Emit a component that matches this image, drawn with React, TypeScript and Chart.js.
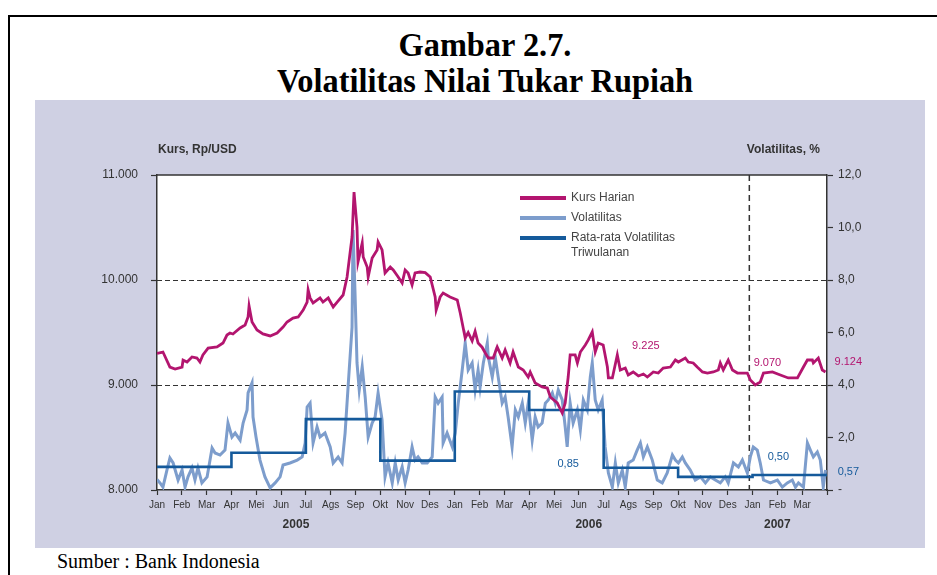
import React, { useEffect, useRef } from 'react';
import { Chart, registerables } from 'chart.js';

Chart.register(...registerables);

const monthLabels = ['Jan','Feb','Mar','Apr','Mei','Jun','Jul','Ags','Sep','Okt','Nov','Des','Jan','Feb','Mar','Apr','Mei','Jun','Jul','Ags','Sep','Okt','Nov','Des','Jan','Feb','Mar'];
const yearLabels = ['2005', '2006', '2007'];
const yearLabelMonth = [5.6, 17.4, 25.0];
const kursTicks = [8000, 9000, 10000, 11000];
const volTicks = [0, 2, 4, 6, 8, 10, 12];
const kursRefLevels = [9000, 10000];
const yearBreakMonth = 23.87;

// [month index since Jan 2005, Rp/USD]
const kursSeries: [number, number][] = [
  [0.00,9300],[0.24,9314],[0.52,9171],[0.73,9152],[1.01,9171],[1.05,9238],[1.21,9219],[1.41,9267],[1.61,9257],[1.73,9219],
  [1.85,9286],[2.06,9352],[2.42,9362],[2.66,9400],[2.82,9476],[2.94,9495],[3.06,9486],[3.35,9543],[3.55,9571],[3.67,9648],
  [3.71,9752],[3.83,9600],[4.03,9524],[4.27,9486],[4.56,9467],[4.84,9495],[5.08,9552],[5.24,9600],[5.48,9638],[5.69,9648],
  [5.89,9714],[6.05,9790],[6.09,9905],[6.17,9829],[6.29,9781],[6.57,9829],[6.69,9790],[6.90,9829],[7.10,9743],[7.26,9790],
  [7.50,9857],[7.66,10029],[7.86,10410],[7.94,10838],[8.06,10505],[8.10,10171],[8.27,10352],[8.31,10219],[8.47,10124],[8.51,10029],
  [8.67,10210],[8.87,10286],[8.91,10362],[9.07,10286],[9.19,10067],[9.40,10124],[9.52,10095],[9.72,10029],[9.88,9971],[10.00,10095],
  [10.12,10067],[10.28,9952],[10.40,10067],[10.60,10076],[10.81,10070],[11.01,10029],[11.21,9838],[11.25,9714],[11.41,9838],[11.53,9876],
  [11.81,9838],[12.10,9810],[12.22,9686],[12.42,9448],[12.54,9500],[12.70,9420],[12.82,9510],[12.94,9400],[13.10,9360],[13.23,9305],
  [13.35,9257],[13.55,9257],[13.71,9362],[13.91,9257],[14.03,9333],[14.23,9210],[14.35,9314],[14.56,9171],[14.76,9143],[14.96,9076],
  [15.04,9124],[15.24,9019],[15.52,8981],[15.73,8971],[15.85,8886],[16.13,8829],[16.33,8733],[16.45,8829],[16.57,9076],[16.65,9286],
  [16.85,9286],[16.94,9210],[17.06,9314],[17.26,9381],[17.38,9429],[17.54,9505],[17.66,9314],[17.78,9400],[17.98,9381],[18.15,9171],
  [18.19,9067],[18.35,9067],[18.55,9286],[18.67,9143],[18.87,9162],[18.99,9095],[19.19,9124],[19.40,9086],[19.60,9105],[19.76,9076],
  [20.00,9124],[20.20,9114],[20.40,9162],[20.69,9171],[20.89,9238],[21.01,9219],[21.29,9257],[21.41,9219],[21.61,9210],[21.77,9171],
  [21.98,9124],[22.18,9114],[22.42,9124],[22.62,9143],[22.70,9210],[22.82,9143],[23.02,9238],[23.19,9143],[23.39,9114],[23.59,9114],
  [23.79,9114],[23.91,9048],[24.11,9000],[24.31,9029],[24.44,9114],[24.80,9124],[25.12,9095],[25.44,9067],[25.81,9067],[26.05,9171],
  [26.21,9238],[26.41,9238],[26.45,9210],[26.65,9257],[26.81,9143],[26.94,9124]
];

// [month index since Jan 2005, volatility %]
const volSeries: [number, number][] = [
  [0.00,0.40],[0.12,0.27],[0.24,0.11],[0.40,0.76],[0.52,1.22],[0.65,1.03],[0.85,0.38],[1.01,0.76],[1.13,0.11],[1.25,0.50],
  [1.41,0.84],[1.53,0.38],[1.65,0.84],[1.81,0.27],[2.02,0.50],[2.22,1.60],[2.34,1.41],[2.54,1.33],[2.74,1.52],[2.86,2.55],
  [3.02,2.02],[3.15,2.17],[3.35,1.90],[3.47,2.55],[3.63,3.05],[3.67,3.70],[3.83,4.08],[3.87,2.78],[3.99,2.02],[4.15,1.14],
  [4.35,0.50],[4.56,0.08],[4.76,0.27],[4.96,0.50],[5.08,0.95],[5.36,1.03],[5.65,1.14],[5.85,1.26],[5.97,1.79],[6.05,3.16],
  [6.17,3.31],[6.29,1.79],[6.45,2.40],[6.57,2.02],[6.77,2.17],[6.98,1.64],[7.10,1.03],[7.30,1.26],[7.46,1.03],[7.58,2.17],
  [7.70,3.92],[7.86,6.20],[7.90,9.90],[7.98,7.50],[8.06,4.84],[8.15,3.81],[8.27,4.69],[8.39,3.54],[8.51,2.02],[8.67,2.55],
  [8.79,2.78],[8.91,3.70],[9.07,2.67],[9.19,0.50],[9.31,1.03],[9.48,0.27],[9.60,1.03],[9.72,0.38],[9.88,0.88],[10.00,0.27],
  [10.12,0.76],[10.28,1.64],[10.40,1.14],[10.52,1.26],[10.69,1.03],[10.89,1.03],[11.09,1.26],[11.21,3.54],[11.33,3.31],[11.49,3.54],
  [11.53,1.79],[11.69,2.17],[11.90,1.64],[12.02,2.17],[12.14,3.31],[12.30,4.57],[12.42,5.60],[12.54,4.57],[12.70,4.84],[12.82,3.81],
  [12.94,4.57],[13.02,3.92],[13.15,4.84],[13.31,5.60],[13.35,5.07],[13.51,4.30],[13.63,5.07],[13.75,4.30],[13.91,3.31],[14.03,3.54],
  [14.15,2.78],[14.31,1.64],[14.44,3.05],[14.56,2.78],[14.72,3.31],[14.84,2.55],[14.96,3.31],[15.12,1.90],[15.24,2.78],[15.36,2.40],
  [15.52,2.55],[15.65,3.31],[15.77,3.43],[15.93,3.70],[16.05,3.31],[16.17,3.81],[16.33,3.43],[16.45,2.40],[16.53,1.64],[16.65,3.31],
  [16.77,2.55],[16.94,3.05],[17.06,2.29],[17.18,3.43],[17.34,3.05],[17.46,4.30],[17.54,4.84],[17.66,3.43],[17.78,3.05],[17.94,3.43],
  [18.06,1.64],[18.19,0.65],[18.35,0.11],[18.47,1.03],[18.59,0.27],[18.75,0.76],[18.87,0.11],[18.99,1.03],[19.19,1.14],[19.35,1.52],
  [19.48,1.79],[19.60,1.26],[19.76,1.64],[19.96,1.14],[20.16,0.38],[20.36,0.27],[20.56,0.65],[20.77,1.33],[20.89,1.14],[21.01,1.03],
  [21.17,1.26],[21.29,1.03],[21.49,0.76],[21.69,0.38],[21.90,0.50],[22.10,0.27],[22.30,0.50],[22.50,0.38],[22.70,0.27],[22.90,0.50],
  [23.02,0.27],[23.23,1.03],[23.43,0.88],[23.59,1.14],[23.79,0.65],[23.91,1.26],[24.03,1.64],[24.19,1.52],[24.31,1.03],[24.44,0.38],
  [24.72,0.27],[25.00,0.38],[25.20,0.11],[25.40,0.27],[25.60,0.38],[25.73,0.11],[25.85,0.27],[26.05,0.11],[26.21,1.79],[26.33,1.52],
  [26.45,1.26],[26.61,1.45],[26.73,1.14],[26.85,0.11],[26.94,0.76]
];

const quarterStart = [0, 3, 6, 9, 12, 15, 18, 21, 24, 27];
const quarterAvg = [0.88, 1.42, 2.70, 1.12, 3.75, 3.05, 0.85, 0.50, 0.57, 0.57];

const kursNoteText = ['9.225', '9.070', '9.124'];
const kursNoteMonth = [19.7, 24.6, 27.86];
const kursNoteValue = [9371, 9210, 9219];
const volNoteText = ['0,85', '0,50', '0,57'];
const volNoteMonth = [16.57, 25.04, 27.86];
const volNoteValue = [0.99, 1.26, 0.69];

const legendText = ['Kurs Harian', 'Volatilitas', 'Rata-rata Volatilitas', 'Triwulanan'];

const KURS_COLOR = '#b3156f';
const VOL_COLOR = '#7d9dcc';
const AVG_COLOR = '#155a9b';
const AXIS_COLOR = '#333333';
const FONT = '"Liberation Sans", Arial, sans-serif';

function fmtKurs(v: number): string {
  const s = Math.round(v).toString();
  return s.replace(/\B(?=(\d{3})+(?!\d))/g, '.');
}
function fmtVol(v: number): string {
  if (v === 0) return '-';
  return v.toFixed(1).replace('.', ',');
}

const overlayPlugin = {
  id: 'overlay',
  beforeDraw(chart: any) {
    const { ctx, chartArea: a } = chart;
    ctx.save();
    ctx.fillStyle = '#ffffff';
    ctx.fillRect(a.left, a.top, a.right - a.left, a.bottom - a.top);
    ctx.restore();
  },
  beforeDatasetsDraw(chart: any) {
    const { ctx, chartArea: a, scales } = chart;
    ctx.save();
    ctx.strokeStyle = AXIS_COLOR;
    ctx.lineWidth = 1.2;
    ctx.setLineDash([5, 3]);
    kursRefLevels.forEach((lv) => {
      const y = Math.round(scales.yKurs.getPixelForValue(lv)) + 0.5;
      ctx.beginPath();
      ctx.moveTo(a.left, y);
      ctx.lineTo(a.right, y);
      ctx.stroke();
    });
    ctx.lineWidth = 1.5;
    ctx.setLineDash([6, 4]);
    const x = scales.x.getPixelForValue(yearBreakMonth);
    ctx.beginPath();
    ctx.moveTo(x, a.top);
    ctx.lineTo(x, a.bottom);
    ctx.stroke();
    ctx.restore();
  },
  afterDraw(chart: any) {
    const { ctx, chartArea: a, scales } = chart;
    ctx.save();
    ctx.strokeStyle = AXIS_COLOR;
    ctx.lineWidth = 1.5;
    ctx.beginPath();
    ctx.moveTo(a.left, a.top);
    ctx.lineTo(a.right, a.top);
    ctx.stroke();

    ctx.fillStyle = AXIS_COLOR;
    ctx.font = `bold 12px ${FONT}`;
    ctx.textBaseline = 'middle';
    ctx.textAlign = 'left';
    ctx.fillText('Kurs, Rp/USD', a.left + 1, a.top - 25);
    ctx.textAlign = 'right';
    ctx.fillText('Volatilitas, %', a.right - 7, a.top - 25);

    ctx.textAlign = 'center';
    ctx.font = `bold 12px ${FONT}`;
    yearLabels.forEach((t, i) => {
      ctx.fillText(t, scales.x.getPixelForValue(yearLabelMonth[i]), a.bottom + 35);
    });

    const lx = a.left + 363;
    const ly = a.top + 23;
    const colors = [KURS_COLOR, VOL_COLOR, AVG_COLOR];
    const rows = [0, 20, 40];
    ctx.lineWidth = 4;
    colors.forEach((c, i) => {
      ctx.strokeStyle = c;
      ctx.beginPath();
      ctx.moveTo(lx, ly + rows[i]);
      ctx.lineTo(lx + 46, ly + rows[i]);
      ctx.stroke();
    });
    ctx.fillStyle = '#444444';
    ctx.font = `12px ${FONT}`;
    ctx.textAlign = 'left';
    const textRows = [0, 20, 40, 55];
    legendText.forEach((t, i) => {
      ctx.fillText(t, lx + 51, ly + textRows[i]);
    });

    ctx.font = `11px ${FONT}`;
    ctx.textAlign = 'center';
    ctx.fillStyle = KURS_COLOR;
    kursNoteText.forEach((t, i) => {
      ctx.fillText(t, scales.x.getPixelForValue(kursNoteMonth[i]), scales.yKurs.getPixelForValue(kursNoteValue[i]));
    });
    ctx.fillStyle = AVG_COLOR;
    volNoteText.forEach((t, i) => {
      ctx.fillText(t, scales.x.getPixelForValue(volNoteMonth[i]), scales.yVol.getPixelForValue(volNoteValue[i]));
    });
    ctx.restore();
  },
};

function ChartCanvas() {
  const ref = useRef<HTMLCanvasElement | null>(null);
  useEffect(() => {
    if (!ref.current) return;
    const chart = new Chart(ref.current, {
      type: 'line',
      data: {
        datasets: [
          {
            label: 'Kurs Harian',
            data: kursSeries.map(([m, v]) => ({ x: m, y: v })),
            yAxisID: 'yKurs',
            borderColor: KURS_COLOR,
            borderWidth: 2.8,
            pointRadius: 0,
            tension: 0,
            order: 0,
          },
          {
            label: 'Rata-rata Volatilitas Triwulanan',
            data: quarterStart.map((m, i) => ({ x: m, y: quarterAvg[i] })),
            yAxisID: 'yVol',
            borderColor: AVG_COLOR,
            borderWidth: 2.6,
            pointRadius: 0,
            stepped: 'before',
            order: 1,
          },
          {
            label: 'Volatilitas',
            data: volSeries.map(([m, v]) => ({ x: m, y: v })),
            yAxisID: 'yVol',
            borderColor: VOL_COLOR,
            borderWidth: 3,
            pointRadius: 0,
            tension: 0,
            order: 2,
          },
        ],
      },
      options: {
        responsive: false,
        animation: false,
        events: [],
        layout: { padding: { top: 75, left: 0, right: 0, bottom: 0 } },
        plugins: { legend: { display: false }, tooltip: { enabled: false } },
        scales: {
          x: {
            type: 'linear',
            min: 0,
            max: 27,
            afterBuildTicks: (s: any) => {
              s.ticks = monthLabels.map((_, i) => ({ value: i })).concat([{ value: 27 }]);
            },
            afterFit: (s: any) => { s.height = 58; },
            ticks: {
              autoSkip: false,
              maxRotation: 0,
              minRotation: 0,
              padding: 4,
              color: AXIS_COLOR,
              font: { size: 10, family: FONT },
              callback: (v: any) => monthLabels[v] ?? '',
            },
            grid: { drawOnChartArea: false, drawTicks: true, tickLength: 5, tickColor: AXIS_COLOR, tickWidth: 1.2 },
            border: { color: AXIS_COLOR, width: 1.5 },
          },
          yKurs: {
            type: 'linear',
            position: 'left',
            min: 8000,
            max: 11000,
            afterBuildTicks: (s: any) => { s.ticks = kursTicks.map((v) => ({ value: v })); },
            afterFit: (s: any) => { s.width = 122; },
            ticks: {
              padding: 13,
              color: AXIS_COLOR,
              font: { size: 12, family: FONT },
              callback: (v: any) => fmtKurs(Number(v)),
            },
            grid: { drawOnChartArea: false, drawTicks: true, tickLength: 6, tickColor: AXIS_COLOR, tickWidth: 1.2 },
            border: { color: AXIS_COLOR, width: 1.5 },
          },
          yVol: {
            type: 'linear',
            position: 'right',
            min: 0,
            max: 12,
            afterBuildTicks: (s: any) => { s.ticks = volTicks.map((v) => ({ value: v })); },
            afterFit: (s: any) => { s.width = 98; },
            ticks: {
              padding: 5,
              color: AXIS_COLOR,
              font: { size: 12, family: FONT },
              callback: (v: any) => fmtVol(Number(v)),
            },
            grid: { drawOnChartArea: false, drawTicks: true, tickLength: 6, tickColor: AXIS_COLOR, tickWidth: 1.2 },
            border: { color: AXIS_COLOR, width: 1.5 },
          },
        },
      } as any,
      plugins: [overlayPlugin],
    });
    return () => chart.destroy();
  }, []);
  return (
    <canvas
      ref={ref}
      width={890}
      height={448}
      style={{ position: 'absolute', left: 35, top: 100, width: 890, height: 448 }}
    />
  );
}

export default function App() {
  return (
    <div style={{ position: 'fixed', left: 0, top: 0, width: 937, height: 575, background: '#ffffff', overflow: 'hidden' }}>
      <div style={{ position: 'absolute', left: 8, top: 15, width: 940, height: 600, borderLeft: '2px solid #000', borderTop: '2px solid #000' }} />
      <div
        style={{
          position: 'absolute', left: 0, width: 970, top: 27, textAlign: 'center',
          fontFamily: '"Liberation Serif", "Times New Roman", serif', fontWeight: 'bold', fontSize: 33, lineHeight: '36px', color: '#000',
          transform: 'scaleX(0.98)', transformOrigin: '485px 0',
        }}
      >
        <div>Gambar 2.7.</div>
        <div>Volatilitas Nilai Tukar Rupiah</div>
      </div>
      <div style={{ position: 'absolute', left: 35, top: 100, width: 890, height: 448, background: '#cfd0e3' }} />
      <ChartCanvas />
      <div
        style={{
          position: 'absolute', left: 57, top: 550, fontFamily: '"Liberation Serif", "Times New Roman", serif',
          fontSize: 20, color: '#000', whiteSpace: 'nowrap',
        }}
      >
        Sumber : Bank Indonesia
      </div>
    </div>
  );
}
